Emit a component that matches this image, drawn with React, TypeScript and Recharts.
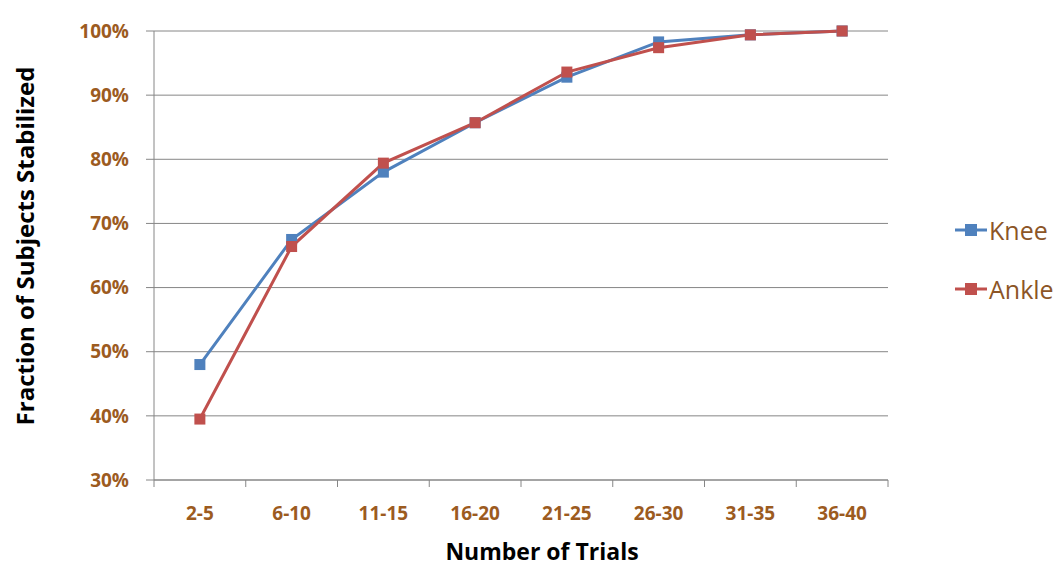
import { LineChart, Line, XAxis, YAxis, CartesianGrid, Legend } from 'recharts';

const categories = ['2-5', '6-10', '11-15', '16-20', '21-25', '26-30', '31-35', '36-40'];
const knee = [48.0, 67.5, 78.0, 85.7, 92.8, 98.3, 99.4, 100];
const ankle = [39.5, 66.4, 79.4, 85.7, 93.6, 97.4, 99.4, 100];
const yTicks = [30, 40, 50, 60, 70, 80, 90, 100];
const seriesNames = ['Knee', 'Ankle'];

const data = categories.map((name, i) => ({ name, Knee: knee[i], Ankle: ankle[i] }));

const FONT = '"Open Sans", sans-serif';
const TICK_COLOR = '#9C5B1F';
const AXIS_COLOR = '#868686';

const SquareDot = (color: string) => (props: any) => {
  const { cx, cy } = props;
  if (cx == null || cy == null) return null;
  return <rect x={cx - 5.5} y={cy - 5.5} width={11} height={11} fill={color} />;
};

// category labels, with tick marks drawn on the band edges instead of the centres
const XTick = (props: any) => {
  const { x, y, payload, index, visibleTicksCount } = props;
  const half = payload.offset || 45.8;
  const top = y - 8;
  return (
    <g>
      <line x1={x - half} y1={top} x2={x - half} y2={top + 7} stroke={AXIS_COLOR} />
      {index === visibleTicksCount - 1 && (
        <line x1={x + half} y1={top} x2={x + half} y2={top + 7} stroke={AXIS_COLOR} />
      )}
      <text x={x} y={top + 40} textAnchor="middle" fill={TICK_COLOR} fontSize={19} fontWeight={700} fontFamily={FONT}>
        {payload.value}
      </text>
    </g>
  );
};

const LegendBox = (props: any) => {
  const items = [...(props.payload || [])].sort(
    (a: any, b: any) => seriesNames.indexOf(a.value) - seriesNames.indexOf(b.value)
  );
  return (
    <div style={{ position: 'absolute', left: 955, top: 200 }}>
      {items.map((it: any) => (
        <div key={it.value} style={{ display: 'flex', alignItems: 'center', height: 59 }}>
          <svg width={32} height={12}>
            <line x1={0} y1={6} x2={32} y2={6} stroke={it.color} strokeWidth={3} />
            <rect x={10} y={0} width={12} height={12} fill={it.color} />
          </svg>
          <span style={{ fontFamily: FONT, fontSize: 25, color: '#8C5526', marginLeft: 2 }}>{it.value}</span>
        </div>
      ))}
    </div>
  );
};

const YLabel = () => (
  <text
    x={0}
    y={0}
    transform="translate(34,246) rotate(-90)"
    textAnchor="middle"
    fontFamily={FONT}
    fontSize={24}
    fontWeight={700}
    fill="#000"
  >
    Fraction of Subjects Stabilized
  </text>
);

const XLabel = (props: any) => {
  const vb = props.viewBox || { x: 154, width: 734, y: 480 };
  return (
    <text
      x={vb.x + vb.width / 2 + 21}
      y={vb.y + 80}
      textAnchor="middle"
      fontFamily={FONT}
      fontSize={23}
      fontWeight={700}
      fill="#000"
    >
      Number of Trials
    </text>
  );
};

export default function App() {
  return (
    <div style={{ position: 'absolute', left: 0, top: 0, width: 1062, height: 571, background: '#fff' }}>
      <LineChart width={1062} height={571} data={data} margin={{ top: 31, right: 174, bottom: 0, left: 0 }}>
        <CartesianGrid vertical={false} stroke={AXIS_COLOR} strokeWidth={1} />
        <XAxis
          dataKey="name"
          scale="band"
          height={91}
          stroke={AXIS_COLOR}
          tickLine={false}
          interval={0}
          tick={<XTick />}
          label={<XLabel />}
        />
        <YAxis
          width={154}
          domain={[30, 100]}
          ticks={yTicks}
          interval={0}
          stroke={AXIS_COLOR}
          tickSize={8}
          tickMargin={17}
          tickFormatter={(v) => `${v}%`}
          tick={{ fill: TICK_COLOR, fontSize: 19, fontWeight: 700, fontFamily: FONT }}
          label={<YLabel />}
        />
        <Legend content={<LegendBox />} wrapperStyle={{ position: 'absolute', left: 0, top: 0, width: 0, height: 0 }} />
        <Line
          dataKey="Knee"
          stroke="#4F81BD"
          strokeWidth={3}
          dot={SquareDot('#4F81BD')}
          activeDot={false}
          isAnimationActive={false}
        />
        <Line
          dataKey="Ankle"
          stroke="#C0504D"
          strokeWidth={3}
          dot={SquareDot('#C0504D')}
          activeDot={false}
          isAnimationActive={false}
        />
      </LineChart>
    </div>
  );
}
